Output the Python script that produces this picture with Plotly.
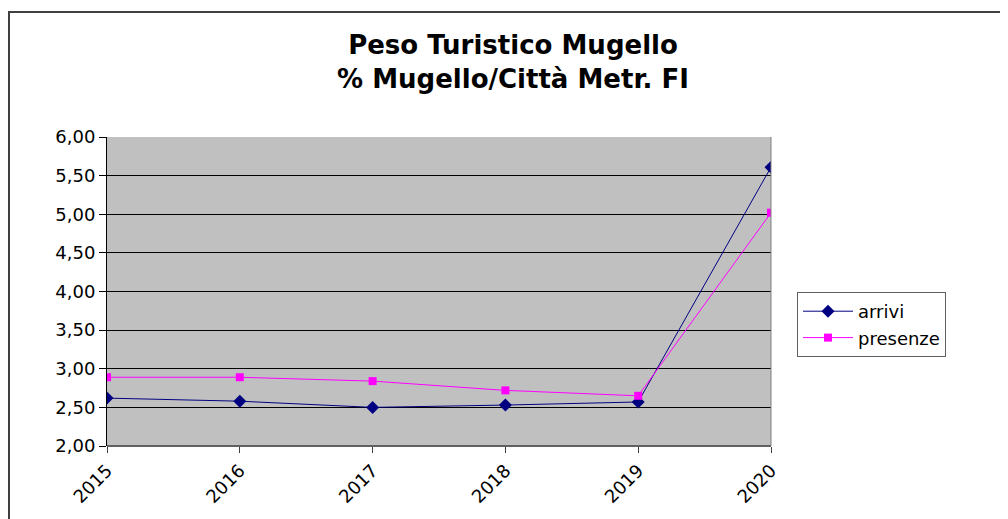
import plotly.graph_objects as go

years = [2015, 2016, 2017, 2018, 2019, 2020]
arrivi = [2.62, 2.58, 2.50, 2.53, 2.57, 5.61]
presenze = [2.89, 2.89, 2.84, 2.72, 2.65, 5.02]
y_ticks = [2.0, 2.5, 3.0, 3.5, 4.0, 4.5, 5.0, 5.5, 6.0]
y_labels = ["2,00", "2,50", "3,00", "3,50", "4,00", "4,50", "5,00", "5,50", "6,00"]

fig = go.Figure()
fig.add_trace(go.Scatter(x=years, y=arrivi, name="arrivi", mode="lines+markers",
                         line=dict(color="#000080", width=1),
                         marker=dict(symbol="diamond", size=10, color="#000080")))
fig.add_trace(go.Scatter(x=years, y=presenze, name="presenze", mode="lines+markers",
                         line=dict(color="#FF00FF", width=1),
                         marker=dict(symbol="square", size=8, color="#FF00FF")))

# page has an 8px body margin; figure coordinates are page - 8
W, H = 1000, 511
L, T = 99, 129
R = W - 763
B = H - 438
pw = W - L - R
ph = H - T - B

def px(x):
    return (x - L) / pw

def py(y):
    return (H - B - y) / ph

FONT = "DejaVu Sans, Liberation Sans, Arial, sans-serif"

fig.update_layout(
    width=W, height=H,
    margin=dict(l=L, r=R, t=T, b=B, autoexpand=False),
    paper_bgcolor="white", plot_bgcolor="#C0C0C0",
    font=dict(family=FONT, size=18, color="black"),
    title=dict(text="<b>Peso Turistico Mugello<br>% Mugello/Città Metr. FI</b>",
               x=px(505), xref="paper", xanchor="center",
               y=1 - 46 / H, yanchor="middle",
               font=dict(size=26, family=FONT)),
    showlegend=True,
    legend=dict(x=px(789), y=py(284), xanchor="left", yanchor="top",
                bordercolor="#606060", borderwidth=1, bgcolor="white",
                font=dict(size=18), itemwidth=50, tracegroupgap=2),
    xaxis=dict(range=[2015, 2020], tickvals=years, ticktext=[str(y) for y in years],
               tickangle=-45, showgrid=False, zeroline=False,
               showline=False, ticks="outside", ticklen=6, tickcolor="#404040"),
    yaxis=dict(range=[2.0, 6.0], tickvals=y_ticks, ticktext=y_labels,
               showgrid=True, gridcolor="black", gridwidth=1, zeroline=False,
               showline=True, linecolor="black", linewidth=1,
               ticks="outside", ticklen=7, tickcolor="black"),
    shapes=[
        dict(type="line", xref="paper", yref="paper", x0=0, x1=1, y0=0, y1=0,
             line=dict(color="#606060", width=2)),
        dict(type="line", xref="paper", yref="paper", x0=1, x1=1, y0=0, y1=1,
             line=dict(color="#808080", width=1)),
        dict(type="rect", xref="paper", yref="paper",
             x0=px(1), x1=px(1006), y0=py(515), y1=py(4),
             line=dict(color="#404040", width=2), layer="below"),
    ],
)

fig.write_html("out.html")
